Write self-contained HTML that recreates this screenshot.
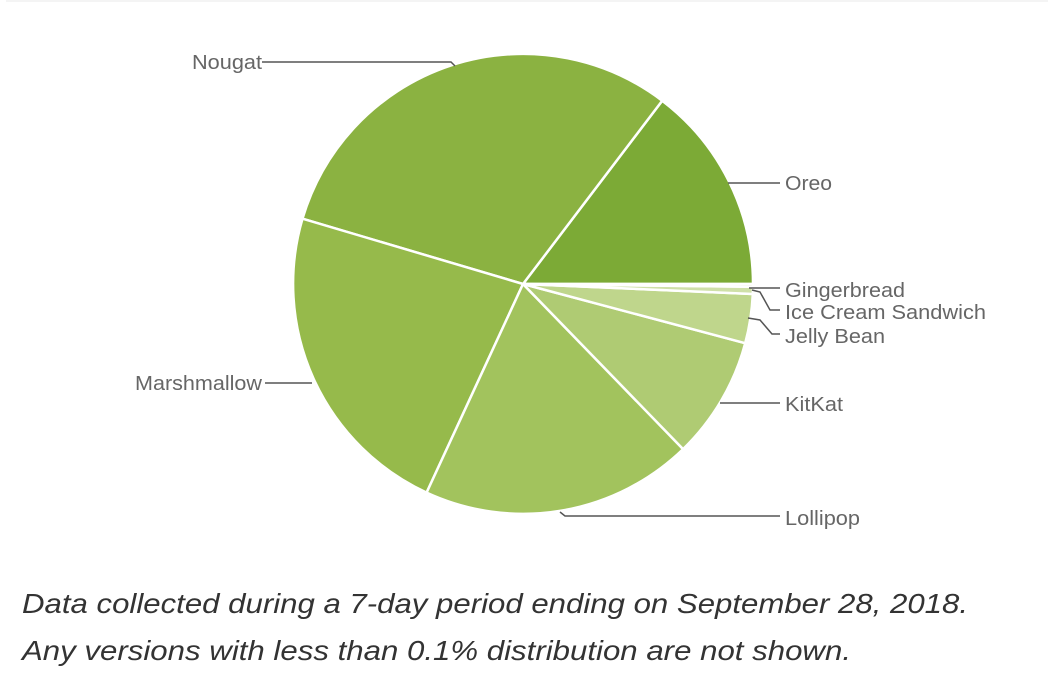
<!DOCTYPE html>
<html><head><style>
html,body{margin:0;padding:0;background:#fff;}
body{width:1048px;height:694px;position:relative;overflow:hidden;font-family:"Liberation Sans",sans-serif;}
.top{position:absolute;left:6px;top:0;width:1042px;height:2px;background:#f4f4f4;}
</style></head><body>
<div class="top"></div>
<svg width="1048" height="694" style="position:absolute;left:0;top:0">
<g stroke="#fff" stroke-width="2.5" stroke-linejoin="round">
<path d="M523,284 L753,284 A230,230 0 0 0 662.2,100.7 Z" fill="#7caa36"/>
<path d="M523,284 L662.2,100.7 A230,230 0 0 0 302.5,218.7 Z" fill="#8bb241"/>
<path d="M523,284 L302.5,218.7 A230,230 0 0 0 426.6,492.6 Z" fill="#96ba4b"/>
<path d="M523,284 L426.6,492.6 A230,230 0 0 0 683.1,449.1 Z" fill="#a2c35d"/>
<path d="M523,284 L683.1,449.1 A230,230 0 0 0 745.2,343.2 Z" fill="#afcb73"/>
<path d="M523,284 L745.2,343.2 A230,230 0 0 0 752.8,294 Z" fill="#bfd68c"/>
<path d="M523,284 L752.8,294 A230,230 0 0 0 753,286.8 Z" fill="#cfe0a8"/>
<path d="M523,284 L753,286.8 A230,230 0 0 0 753,284 Z" fill="#dde9c2"/>
</g>
<g stroke="#555" stroke-width="1.5" fill="none">
<path d="M728,183 L780,183"/>
<path d="M262,62 L451,62 L455,66"/>
<path d="M265,383 L312,383"/>
<path d="M560,512 L565,516 L780,516"/>
<path d="M720,403 L780,403"/>
<path d="M749,288 L780,288"/>
<path d="M752,290 L760,292 L770,310 L780,310"/>
<path d="M748,318 L760,320 L772,334 L780,334"/>
</g>
<g fill="#666" font-size="20" font-family="Liberation Sans, sans-serif" lengthAdjust="spacingAndGlyphs">
<text x="785" y="190" textLength="47" lengthAdjust="spacingAndGlyphs">Oreo</text>
<text x="192" y="69" textLength="70" lengthAdjust="spacingAndGlyphs">Nougat</text>
<text x="135" y="390" textLength="127" lengthAdjust="spacingAndGlyphs">Marshmallow</text>
<text x="785" y="297" textLength="120" lengthAdjust="spacingAndGlyphs">Gingerbread</text>
<text x="785" y="319" textLength="201" lengthAdjust="spacingAndGlyphs">Ice Cream Sandwich</text>
<text x="785" y="343" textLength="100" lengthAdjust="spacingAndGlyphs">Jelly Bean</text>
<text x="785" y="411" textLength="58" lengthAdjust="spacingAndGlyphs">KitKat</text>
<text x="785" y="525" textLength="75" lengthAdjust="spacingAndGlyphs">Lollipop</text>
</g>
<g fill="#333" font-size="28" font-style="italic" font-family="Liberation Sans, sans-serif">
<text x="22" y="613" textLength="946" lengthAdjust="spacingAndGlyphs">Data collected during a 7-day period ending on September 28, 2018.</text>
<text x="22" y="660" textLength="829" lengthAdjust="spacingAndGlyphs">Any versions with less than 0.1% distribution are not shown.</text>
</g>
</svg>
</body></html>
